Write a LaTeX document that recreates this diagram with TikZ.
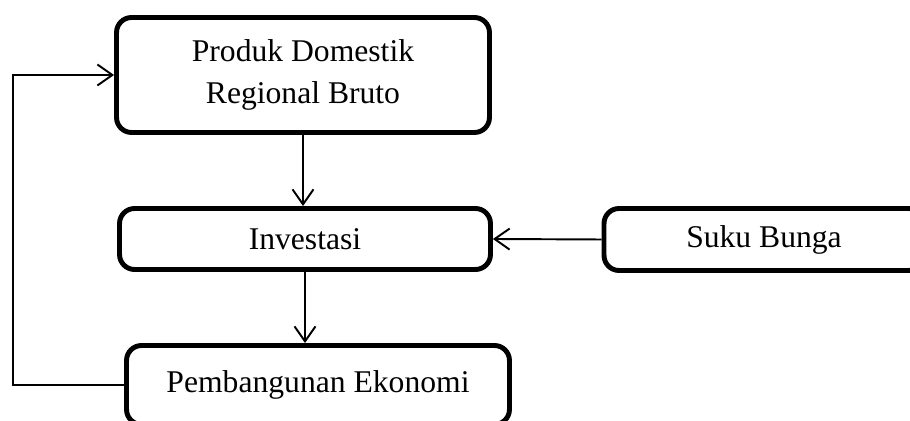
\documentclass[tikz,border=0pt]{standalone}
\usepackage{fontspec}
\setmainfont{Liberation Serif}
\usetikzlibrary{arrows.meta}
\begin{document}
\begin{tikzpicture}[x=0.02cm, y=-0.02cm, line width=1.1pt,
		main/.style = {draw, line width=2.8pt, rounded corners=0.3cm, align=center,
			font=\fontsize{18}{24}\selectfont, inner sep=0pt},
		every edge/.style = {draw, -{Straight Barb[length=0.3cm, width=0.42cm]}}]

		\useasboundingbox (0,0) rectangle (910,421);

		\node[main, minimum width=7.46cm, minimum height=2.3cm] (pdrb) at (303,75) {Produk Domestik\\Regional Bruto};
		\node[main, minimum width=7.42cm, minimum height=1.22cm] (inv) at (305,239) {Investasi};
		\node[main, minimum width=6.4cm, minimum height=1.24cm] (suku) at (764,239.5) {Suku Bunga};
		\node[main, minimum width=7.66cm, minimum height=1.58cm] (eko) at (318,385) {Pembangunan Ekonomi};
		\coordinate (back) at (13,385);

		\draw (pdrb.south -| 303,0) edge (inv.north -| 303,0);
		\draw (inv.south) edge (inv.south |- eko.north);
		\draw (suku.west) edge (inv.east);
		\draw[-{Straight Barb[length=0.3cm, width=0.42cm]}] (eko.west) -- (back) |- (pdrb.west);
	\end{tikzpicture}
\end{document}
